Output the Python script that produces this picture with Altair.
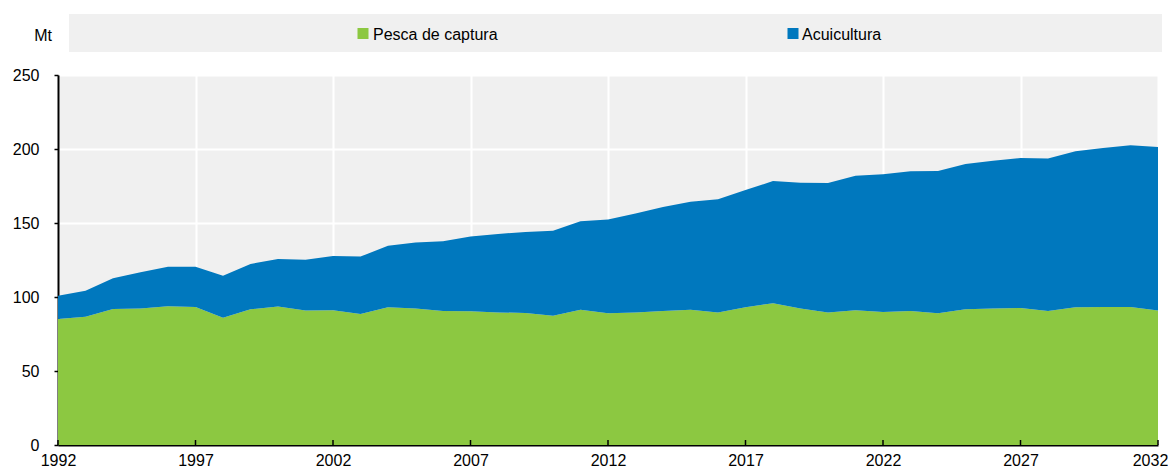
import altair as alt
import pandas as pd

years = list(range(1992, 2033))
captura = [85.1, 86.7, 91.9, 92.3, 93.7, 93.2, 86.0, 91.7, 93.5, 90.8, 91.0, 88.5, 93.0,
           92.3, 90.5, 90.3, 89.6, 89.2, 87.4, 91.4, 89.0, 89.6, 90.5, 91.4, 89.6, 93.0,
           95.8, 92.3, 89.6, 91.0, 89.9, 90.5, 89.0, 91.7, 92.3, 92.6, 90.5, 93.0, 93.2,
           93.2, 90.8]
acuicultura = [15.8, 17.6, 20.7, 24.4, 26.8, 27.3, 28.4, 30.6, 32.2, 34.4, 36.7, 38.8, 41.7,
               44.6, 47.1, 50.5, 53.0, 54.7, 57.4, 59.7, 63.3, 66.9, 70.3, 73.0, 76.4, 79.3,
               82.5, 84.9, 87.4, 91.0, 93.0, 94.4, 96.1, 98.2, 99.8, 101.3, 103.0, 105.4, 107.5,
               109.3, 110.6]
series = ["Pesca de captura", "Acuicultura"]
colors = ["#8cc841", "#0078be"]
x_ticks = [1992, 1997, 2002, 2007, 2012, 2017, 2022, 2027, 2032]
y_ticks = [0, 50, 100, 150, 200, 250]
unit = "Mt"

FONT = "Liberation Sans"
W, H = 1100, 370

rows = []
for i, yr in enumerate(years):
    rows.append({"year": yr, "serie": series[0], "valor": captura[i], "orden": 0})
    rows.append({"year": yr, "serie": series[1], "valor": acuicultura[i], "orden": 1})
df = pd.DataFrame(rows)

xscale = alt.Scale(domain=[1992, 2032], nice=False, zero=False)
yscale = alt.Scale(domain=[0, 250], nice=False)

area = alt.Chart(df).mark_area(opacity=1).encode(
    x=alt.X("year:Q", scale=xscale,
            axis=alt.Axis(values=x_ticks, format="d", title=None, ticks=False,
                          labelPadding=7, labelFlush=False, labelOverlap=False,
                          labelOffset={"condition": {"test": "datum.value == 2032", "value": -8},
                                       "value": 0},
                          labelFont=FONT, labelFontSize=16, labelColor="black",
                          domainColor="black", domainWidth=2,
                          grid=True, gridColor="white", gridWidth=2, gridOpacity=1)),
    y=alt.Y("valor:Q", stack="zero", scale=yscale,
            axis=alt.Axis(values=y_ticks, title=None, tickSize=4, tickColor="black",
                          tickWidth=1.5, labelPadding=15, domainColor="black",
                          labelFont=FONT, labelFontSize=16, labelColor="black",
                          domainWidth=2, grid=True, gridColor="white", gridWidth=2,
                          gridOpacity=1)),
    color=alt.Color("serie:N", scale=alt.Scale(domain=series, range=colors), legend=None),
    order=alt.Order("orden:Q"),
)

tick_df = pd.DataFrame({"year": x_ticks})
xtick_rules = alt.Chart(tick_df).mark_rule(color="black", strokeWidth=1.5).encode(
    x=alt.X("year:Q", scale=xscale),
    y=alt.value(H - 5),
    y2=alt.value(H),
)

one = pd.DataFrame({"a": [0]})
band = alt.Chart(one).mark_rect(color="#f0f0f0").encode(
    x=alt.value(11), x2=alt.value(1104), y=alt.value(-61), y2=alt.value(-23)
)
mt = alt.Chart(one).mark_text(text=unit, align="right", baseline="alphabetic",
                              font=FONT, fontSize=16, color="black").encode(
    x=alt.value(-6), y=alt.value(-34)
)

leg_df = pd.DataFrame({"serie": series, "sx": [299.5, 729.5], "tx": [315, 744]})
leg_sq = alt.Chart(leg_df).mark_rect().encode(
    x=alt.X("sx:Q", scale=None), x2=alt.X2("sx2:Q"),
    y=alt.value(-47), y2=alt.value(-36),
    color=alt.Color("serie:N", scale=alt.Scale(domain=series, range=colors), legend=None),
).transform_calculate(sx2="datum.sx + 11")
leg_tx = alt.Chart(leg_df).mark_text(align="left", baseline="alphabetic", font=FONT,
                                     fontSize=16, color="black").encode(
    x=alt.X("tx:Q", scale=None), y=alt.value(-35), text="serie:N"
)

chart = alt.layer(band, mt, area, xtick_rules, leg_sq, leg_tx).properties(
    width=W, height=H,
    padding={"left": 50, "top": 67, "right": 10, "bottom": 22},
    autosize=alt.AutoSizeParams(type="none"),
    background="white",
).configure_view(fill="#f0f0f0", strokeWidth=0)

chart.save("out.html", embed_options={"renderer": "svg", "actions": False})
